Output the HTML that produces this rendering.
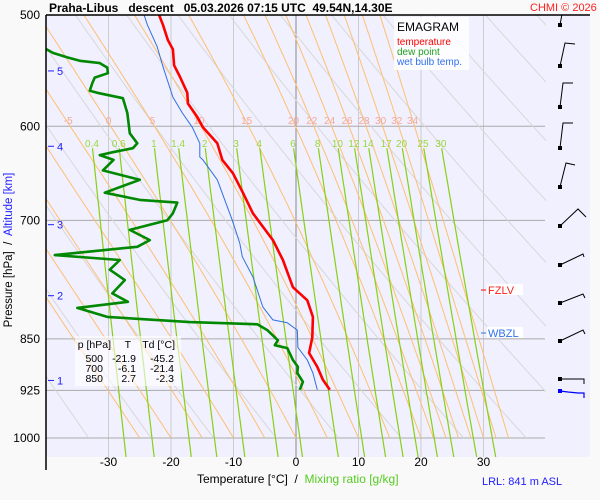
<!DOCTYPE html>
<html><head><meta charset="utf-8"><style>
body{margin:0;background:#f9f9f9;}
svg{display:block;font-family:"Liberation Sans",sans-serif;}
</style></head><body>
<svg id="chart" width="600" height="500" viewBox="0 0 600 500">
<defs><clipPath id="pc"><rect x="46" y="15" width="500" height="442"/></clipPath>
<clipPath id="pc2"><rect x="46" y="15" width="544" height="442"/></clipPath></defs>
<rect x="0" y="0" width="600" height="500" fill="#f9f9f9"/>
<rect x="46" y="15" width="544" height="442" fill="#f0f0ff"/>
<g id="grid"></g>
<g id="adiab" clip-path="url(#pc)"></g>
<g id="labels"></g>
<g id="series" clip-path="url(#pc2)"></g>
<g id="axes"></g>
</svg>
<script>
const NS="http://www.w3.org/2000/svg";
// ---- data ----
const tempP=[500,508,521,529,543,553,568,578,591,601,617,634,648,669,692,723,747,781,798,820,848,870,890,909,924];
const tempT=[-21.9,-21.3,-20.5,-19.7,-19.5,-18.6,-17.4,-17.3,-15.8,-14.9,-12.6,-11.8,-10.1,-8.5,-6.9,-3.7,-2.1,-0.5,1.8,2.7,2.6,2.1,3.4,4.3,5.4];
const dewP=[500,528,532,536,539,541,545,550,554,559,566,568,573,587,607,617,622,626,629,634,645,655,669,677,680,692,700,711,723,731,741,747,759,772,789,800,808,820,827,830,838,852,859,863,880,890,899,912,924];
const dewT=[-45.2,-40.2,-38.9,-36.6,-34.6,-31.4,-30.2,-30.1,-32.2,-32.6,-33.0,-31.8,-27.7,-27.0,-26.6,-25.4,-26.1,-29.3,-31.4,-29.2,-30.9,-25.0,-30.6,-25.0,-19.0,-19.7,-20.6,-26.6,-23.4,-25.4,-38.6,-28.2,-29.8,-27.4,-29.4,-26.9,-35.0,-30.2,-17.0,-6.2,-4.6,-2.9,-3.4,-1.4,-0.5,0.3,0.2,1.1,0.6];
const wbP=[500,508,527,544,572,587,601,617,631,634,655,700,727,743,768,807,824,828,838,862,880,899,924];
const wbT=[-24.3,-23.8,-22.2,-21.3,-19.7,-18.2,-16.6,-15.4,-15.4,-14.9,-12.6,-10.2,-9.0,-8.6,-6.9,-5.3,-3.7,-1.4,0.2,0.3,1.8,2.7,3.4];
const pLevels=[500,600,700,850,925,1000];
const tTicks=[-30,-20,-10,0,10,20,30];
const mixRatios=[0.4,0.6,1,1.4,2,3,4,6,8,10,12,14,17,20,25,30];
const thetaW=[-25,-20,-15,-10,-5,0,5,10,15,20,22,24,26,28,30,32,34];
const thetaWLabeled=[-5,0,5,10,15,20,22,24,26,28,30,32,34];
const thetaD=[230,240,250,260,270,280,290,300,310,320,330,340,350,360,370,380,390,400,410,420,430,440,450];
const altKm=[1,2,3,4,5];
const altP=[910,792,705,620,548];
// ---- scales ----
const xT=T=>296+6.25*T;
const yP=p=>15+Math.log(p/500)/Math.LN2*423;
function el(tag,attrs,parent,name,txt){const e=document.createElementNS(NS,tag);for(const k in attrs)e.setAttribute(k,attrs[k]);


if(txt!==undefined)e.textContent=txt;parent.appendChild(e);return e;}
const G=id=>document.getElementById(id);
const grid=G('grid'),ad=G('adiab'),lab=G('labels'),ser=G('series'),ax=G('axes');
tTicks.forEach(t=>{el('line',{x1:xT(t),x2:xT(t),y1:15,y2:457,stroke:t===0?'#888':'#ccc','stroke-width':1},grid,'isotherm');});
pLevels.forEach(p=>{if(p===500)return;el('line',{x1:46,x2:545,y1:yP(p),y2:yP(p),stroke:'#aaa','stroke-width':1},grid,'isobar');});
thetaD.forEach(th=>{let pts=[];for(let p=480;p<=1000;p+=10){pts.push(xT(th*Math.pow(p/1000,0.286)-273.15).toFixed(1)+','+yP(p).toFixed(1));}
el('polyline',{points:pts.join(' '),fill:'none',stroke:'#d8d8d8','stroke-width':1},ad,'dry-adiabat');});
function es(T){return 6.112*Math.exp(17.67*T/(T+243.5));}
function moist(tw){const Rd=287,cp=1005,L=2.5e6,eps=0.622;let T=tw+273.15,p=1000,pts=[[p,T-273.15]];
while(p>480){const e=es(T-273.15),rs=eps*e/(p-e);const dTdp=(Rd*T+L*rs)/(p*(cp+L*L*rs*eps/(Rd*T*T)));const dp=-2;T+=dTdp*dp;p+=dp;pts.push([p,T-273.15]);}return pts;}
const moistCache={};
thetaW.forEach(tw=>{const pts=moist(tw);moistCache[tw]=pts;
el('polyline',{points:pts.map(a=>xT(a[1]).toFixed(1)+','+yP(a[0]).toFixed(1)).join(' '),fill:'none',stroke:'#ffbf70','stroke-width':1},ad,'moist-adiabat');});
thetaWLabeled.forEach(tw=>{const pts=moistCache[tw];let best=pts.reduce((a,b)=>Math.abs(b[0]-600)<Math.abs(a[0]-600)?b:a);
el('text',{x:xT(best[1])-2,y:124,'font-size':10,fill:'#f5a898','text-anchor':'middle'},lab,'moist-adiabat-label',String(tw));});
function tdW(w,p){const e=w*p/(622+w);const l=Math.log(e/6.112);return 243.5*l/(17.67-l);}
mixRatios.forEach(w=>{let pts=[];for(let p=622;p<=1050;p+=8)pts.push(xT(tdW(w,p)).toFixed(1)+','+yP(p).toFixed(1));
el('polyline',{points:pts.join(' '),fill:'none',stroke:'#88d010','stroke-width':1.2},ad,'mixing-ratio-line');
el('text',{x:xT(tdW(w,617)),y:147,'font-size':10,fill:'#9ad83a','text-anchor':'middle'},lab,'mixing-ratio-label',String(w));});
function prof(P,T,color,w,name){el('polyline',{points:P.map((p,i)=>xT(T[i]).toFixed(1)+','+yP(p).toFixed(1)).join(' '),fill:'none',stroke:color,'stroke-width':w,'stroke-linejoin':'round'},ser,name);}
prof(wbP,wbT,'#2f6fe0',1,'wet-bulb-line');
prof(dewP,dewT,'#008800',2.6,'dewpoint-line');
prof(tempP,tempT,'#ff0000',2.6,'temperature-line');
const barbs=[[[560,25],[562,14],[575,14]],[[560,66],[565,43],[575,44]],[[560,107],[563,83],[573,83]],[[560,148],[563,123],[573,123]],[[560,187],[566,163],[575,165]],[[560,226],[578,209],[586,217]],[[560,265],[583,254],[584,257]],[[560,303],[583,294],[585,298]],[[560,341],[583,330],[585,334]],[[560,379],[584,379],[584,384]]];
barbs.forEach(b=>{el('polyline',{points:b.map(q=>q.join(',')).join(' '),fill:'none',stroke:'#000','stroke-width':1},ser,'wind-barb');
el('rect',{x:b[0][0]-2,y:b[0][1]-2,width:4,height:4,fill:'#000'},ser,'wind-barb-dot');});
el('polyline',{points:'560,391 568,392 578,393 584,393 584,398',fill:'none',stroke:'#0000ff','stroke-width':1.2},ser,'surface-wind-barb');
el('rect',{x:558,y:389,width:4,height:4,fill:'#0000ff'},ser,'surface-wind-dot');
el('line',{x1:46,x2:46,y1:15,y2:470,stroke:'#000','stroke-width':1.5},ax,'y-axis-line');
el('line',{x1:46,x2:590,y1:15,y2:15,stroke:'#000','stroke-width':1.5},ax,'top-border');
pLevels.forEach(p=>{el('text',{x:40,y:yP(p)+4,'font-size':12,'text-anchor':'end',fill:'#000'},ax,'pressure-tick-label',String(p));});
tTicks.forEach(t=>{el('text',{x:xT(t),y:466,'font-size':12,'text-anchor':'middle',fill:'#000'},ax,'temperature-tick-label',String(t));});
altKm.forEach((k,i)=>{const y=yP(altP[i]);el('line',{x1:48,x2:54,y1:y,y2:y,stroke:'#2020ff','stroke-width':1},ax,'altitude-tick');
el('text',{x:57,y:y+4,'font-size':11,fill:'#2020ff'},ax,'altitude-tick-label',String(k));});
</script>
<svg width="600" height="500" style="position:absolute;left:0;top:0;font-family:'Liberation Sans',sans-serif">
<text x="49" y="12" font-size="12" font-weight="bold" fill="#000" xml:space="preserve">Praha-Libus   descent   05.03.2026 07:15 UTC  49.54N,14.30E</text>
<text x="530" y="11" font-size="11" fill="#ff2020">CHMI © 2026</text>
<rect x="394" y="17" width="75" height="53" fill="#fff" opacity="0.85"/>
<text x="397" y="31" font-size="12" fill="#000">EMAGRAM</text>
<text x="397" y="45" font-size="10" fill="#ff0000">temperature</text>
<text x="397" y="55" font-size="10" fill="#20a020">dew point</text>
<text x="397" y="65" font-size="10" fill="#3070f0">wet bulb temp.</text>
<line x1="481" y1="290" x2="486" y2="290" stroke="#ff0000"/>
<rect x="487" y="284" width="36" height="11" fill="#fff"/>
<text x="488" y="294" font-size="11" fill="#ff2020">FZLV</text>
<line x1="481" y1="333" x2="486" y2="333" stroke="#3070f0"/>
<rect x="487" y="327" width="36" height="11" fill="#fff"/>
<text x="488" y="337" font-size="11" fill="#3070f0">WBZL</text>
<rect x="75" y="336" width="106" height="50" fill="#fff" opacity="0.6"/>
<g font-size="10.5" fill="#000" text-anchor="end">
<text x="111" y="348">p [hPa]</text>
<text x="131" y="348">T</text>
<text x="175" y="348">Td [°C]</text>
<text x="103" y="362">500</text><text x="136" y="362">-21.9</text><text x="174" y="362">-45.2</text>
<text x="103" y="372">700</text><text x="136" y="372">-6.1</text><text x="174" y="372">-21.4</text>
<text x="103" y="382">850</text><text x="136" y="382">2.7</text><text x="174" y="382">-2.3</text>
</g>
<text x="197" y="483" font-size="12" fill="#000" xml:space="preserve">Temperature [°C]  /  <tspan fill="#55cc22">Mixing ratio [g/kg]</tspan></text>
<text x="482" y="485" font-size="11" fill="#2020ff">LRL: 841 m ASL</text>
<text transform="translate(12,250) rotate(-90)" font-size="11.5" text-anchor="middle" fill="#000" xml:space="preserve">Pressure [hPa]  /  <tspan fill="#2020ff">Altitude [km]</tspan></text>
</svg>
</body></html>
